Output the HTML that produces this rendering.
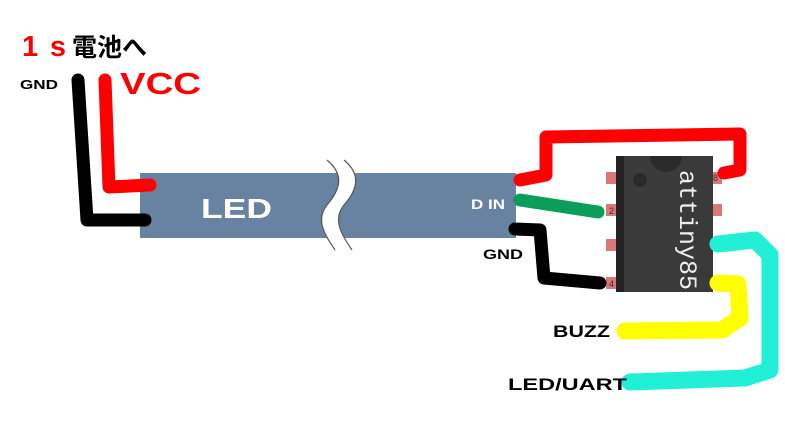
<!DOCTYPE html>
<html><head><meta charset="utf-8"><style>body{margin:0;background:#fff}svg{display:block}</style></head><body>
<svg width="785" height="431" viewBox="0 0 785 431" xmlns="http://www.w3.org/2000/svg" font-family="Liberation Sans, Noto Sans CJK JP, sans-serif">
<rect width="785" height="431" fill="#fff"/>
<rect x="140" y="173" width="376" height="65" fill="#6783a1"/>
<path d="M327,160 C345,175 340,190 327,205 C315,220 325,235 335,250 L352,250 C342,235 332,220 344,205 C357,190 362,175 344,160 Z" fill="#fff"/>
<path d="M327,160 C345,175 340,190 327,205 C315,220 325,235 335,250 M344,160 C362,175 357,190 344,205 C332,220 342,235 352,250" fill="none" stroke="#555" stroke-width="1.2"/>
<text x="201" y="218" font-size="28" font-weight="bold" fill="#fff" textLength="71" lengthAdjust="spacingAndGlyphs">LED</text>
<text x="471" y="209" font-size="14" font-weight="bold" fill="#fff" textLength="34" lengthAdjust="spacingAndGlyphs">D IN</text>
<g fill="#d9777a">
<rect x="606" y="172" width="12" height="12"/><rect x="606" y="204" width="12" height="12"/><rect x="606" y="239" width="12" height="12"/><rect x="606" y="277" width="12" height="12"/>
<rect x="710" y="172" width="12" height="12"/><rect x="710" y="204" width="12" height="12"/><rect x="710" y="239" width="12" height="12"/><rect x="710" y="277" width="12" height="12"/>
</g>
<rect x="616" y="156" width="97" height="136" fill="#3a3a3a"/>
<rect x="616" y="156" width="8" height="136" fill="#222"/>
<path d="M650,156 A16,16 0 0 0 682,156 Z" fill="#2a2a2a"/>
<circle cx="640" cy="180" r="7" fill="#2a2a2a"/>
<text x="680" y="170" font-size="25" font-family="Liberation Mono, monospace" fill="#eee" transform="rotate(90 680 170)">attiny85</text>
<g font-size="9" fill="#333"><text x="609" y="214">2</text><text x="609" y="287">4</text><text x="713" y="181">8</text></g>
<g fill="none" stroke-linecap="round" stroke-linejoin="round" stroke-width="13">
<path d="M78,80 L87,220 L145,220" stroke="#000"/>
<path d="M105,80 L109,187 L150,185" stroke="#f00"/>
<path d="M520,180 L546,175 L546,137 L740,134 L740,170 L724,173" stroke="#f00"/>
<path d="M520,200 L598,212" stroke="#0b9e5b"/>
<path d="M515,229 L540,230 L544,278 L600,283" stroke="#000"/>
<path d="M718,244 L755,240 L770,255 L770,370 L745,378 L630,382" stroke="#22f0d6" stroke-width="17"/>
<path d="M718,283 L738,284 L740,318 L722,330 L625,331" stroke="#ff0" stroke-width="17"/>
</g>
<text x="22" y="56" font-size="29" font-weight="bold" fill="#f00" textLength="44" lengthAdjust="spacing">1s</text>
<text x="72" y="56" font-size="25" font-weight="bold" fill="#000">電池へ</text>
<text x="20" y="89" font-size="13" font-weight="bold" fill="#000" textLength="38" lengthAdjust="spacingAndGlyphs">GND</text>
<text x="120" y="94" font-size="31" font-weight="bold" fill="#f00" textLength="81" lengthAdjust="spacingAndGlyphs">VCC</text>
<text x="483" y="259" font-size="14" font-weight="bold" fill="#000" textLength="40" lengthAdjust="spacingAndGlyphs">GND</text>
<text x="553" y="337" font-size="17" font-weight="bold" fill="#000" textLength="57" lengthAdjust="spacingAndGlyphs">BUZZ</text>
<text x="508" y="390" font-size="17" font-weight="bold" fill="#000" textLength="119" lengthAdjust="spacingAndGlyphs">LED/UART</text>
</svg>
</body></html>
